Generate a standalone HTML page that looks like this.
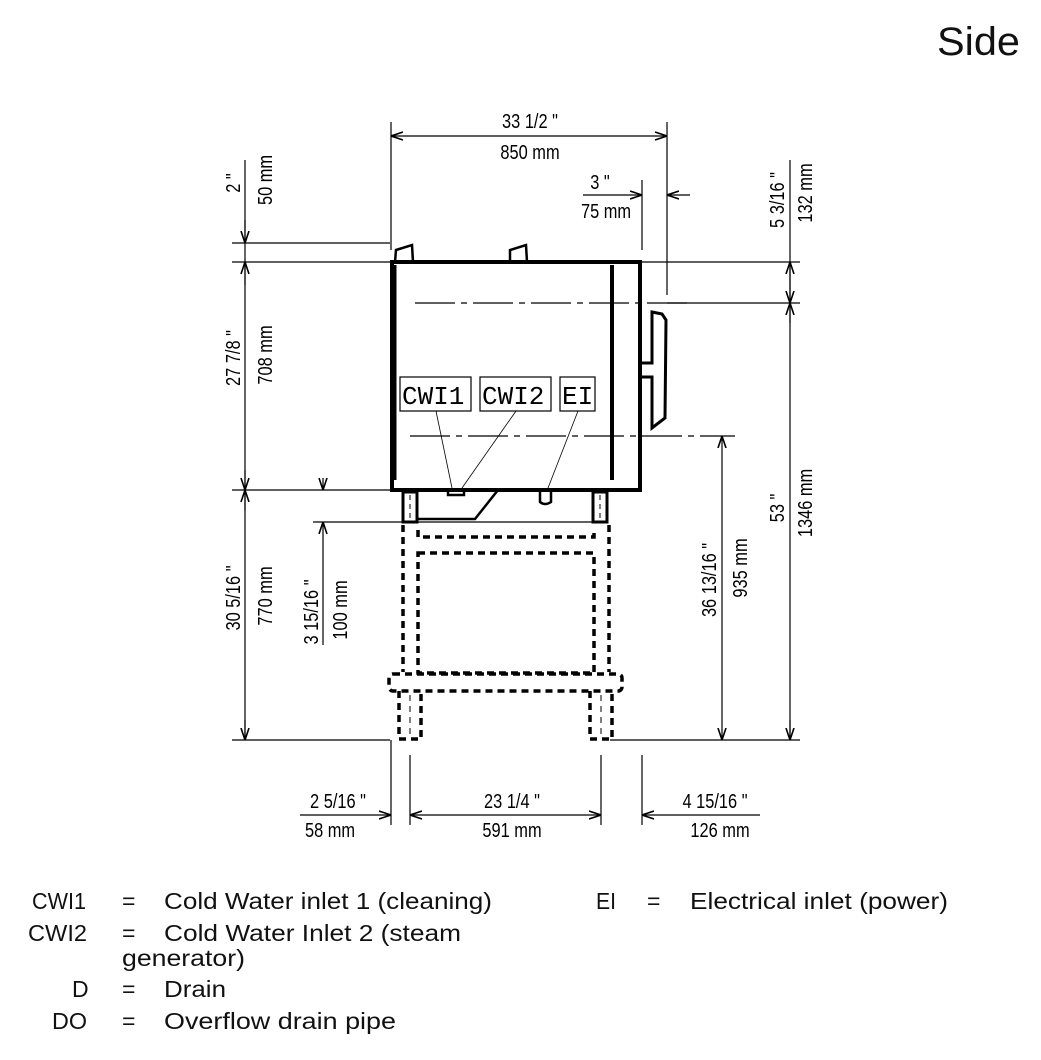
<!DOCTYPE html>
<html><head><meta charset="utf-8"><style>
html,body{margin:0;padding:0;background:#fff;}
svg{display:block;}
.d{font-family:"Liberation Sans",sans-serif;font-size:20px;fill:#000;white-space:pre;}
.lg{font-family:"Liberation Sans",sans-serif;font-size:23px;fill:#111;}
</style></head><body>
<svg width="1041" height="1060" viewBox="0 0 1041 1060" xmlns="http://www.w3.org/2000/svg" xml:space="preserve">
<defs>
<marker id="a" viewBox="0 0 12 10" refX="12" refY="5" markerWidth="12" markerHeight="10" markerUnits="userSpaceOnUse" orient="auto-start-reverse">
<path d="M0,1 L12,5 L0,9" fill="none" stroke="#000" stroke-width="1.6"/>
</marker>
</defs>
<text x="937" y="55" font-family="Liberation Sans,sans-serif" font-size="40" fill="#111" textLength="83" lengthAdjust="spacingAndGlyphs">Side</text>

<g stroke="#000" stroke-width="1.2" fill="none">
<line x1="391" y1="122" x2="391" y2="250"/>
<line x1="667" y1="122" x2="667" y2="295"/>
<line x1="391" y1="136" x2="667" y2="136" marker-start="url(#a)" marker-end="url(#a)"/>
<line x1="642" y1="180" x2="642" y2="250"/>
<line x1="583" y1="195" x2="642" y2="195" marker-end="url(#a)"/>
<line x1="667" y1="195" x2="690" y2="195" marker-start="url(#a)"/>
<line x1="245" y1="160" x2="245" y2="740"/>
<line x1="232" y1="243" x2="390" y2="243"/>
<line x1="232" y1="262" x2="392" y2="262"/>
<line x1="232" y1="490" x2="390" y2="490"/>
<line x1="232" y1="740" x2="390" y2="740"/>
<line x1="245" y1="220" x2="245" y2="243" marker-end="url(#a)"/>
<line x1="245" y1="285" x2="245" y2="262" marker-end="url(#a)"/>
<line x1="245" y1="470" x2="245" y2="490" marker-end="url(#a)"/>
<line x1="245" y1="510" x2="245" y2="490" marker-end="url(#a)"/>
<line x1="245" y1="720" x2="245" y2="740" marker-end="url(#a)"/>
<line x1="323" y1="478" x2="323" y2="490" marker-end="url(#a)"/>
<line x1="323" y1="645" x2="323" y2="522" marker-end="url(#a)"/>
<line x1="313" y1="522" x2="605" y2="522"/>
<line x1="790" y1="160" x2="790" y2="740"/>
<line x1="640" y1="262" x2="800" y2="262"/>
<line x1="667" y1="303" x2="800" y2="303"/>
<line x1="610" y1="740" x2="800" y2="740"/>
<line x1="790" y1="283" x2="790" y2="262" marker-end="url(#a)"/>
<line x1="790" y1="283" x2="790" y2="303" marker-end="url(#a)"/>
<line x1="790" y1="323" x2="790" y2="303" marker-end="url(#a)"/>
<line x1="790" y1="720" x2="790" y2="740" marker-end="url(#a)"/>
<line x1="722" y1="436" x2="722" y2="740" marker-start="url(#a)" marker-end="url(#a)"/>
<line x1="391" y1="740" x2="391" y2="825"/>
<line x1="410" y1="755" x2="410" y2="825"/>
<line x1="601" y1="755" x2="601" y2="825"/>
<line x1="642" y1="755" x2="642" y2="825"/>
<line x1="300" y1="815" x2="391" y2="815" marker-end="url(#a)"/>
<line x1="410" y1="815" x2="601" y2="815" marker-start="url(#a)" marker-end="url(#a)"/>
<line x1="642" y1="815" x2="760" y2="815" marker-start="url(#a)"/>
<line x1="415" y1="303" x2="690" y2="303" stroke-dasharray="40,6,6,6"/>
<line x1="410" y1="436" x2="735" y2="436" stroke-dasharray="40,6,6,6"/>
<line x1="436" y1="411" x2="452" y2="488" stroke-width="0.8"/>
<line x1="516" y1="411" x2="462" y2="488" stroke-width="0.8"/>
<line x1="578" y1="411" x2="548" y2="488" stroke-width="0.8"/>
</g>

<g stroke="#000" fill="none">
<rect x="392" y="262" width="248" height="228" stroke-width="4"/>
<line x1="395" y1="265" x2="395" y2="480" stroke-width="3"/>
<line x1="612" y1="265" x2="612" y2="480" stroke-width="4"/>
<path d="M395,262 L396,250 L412,245 L413,262 M510,262 L510,250 L526,245 L527,262" stroke-width="2.5"/>
<path d="M642,363 L652,363 L652,312 L662,314 L666,320 L665,418 L652,428 L652,377 L642,377" stroke-width="3"/>
<path d="M418,519 L475,519 L498,490" stroke-width="2.5"/>
<rect x="448" y="490" width="16" height="5" stroke-width="2.5"/>
<path d="M540,490 L540,502 Q545,506 551,502 L551,490" stroke-width="2.5"/>
<rect x="403" y="492" width="14" height="30" stroke-width="3"/>
<rect x="593" y="492" width="14" height="30" stroke-width="3"/>
<line x1="410" y1="495" x2="410" y2="520" stroke-width="1" stroke-dasharray="5,4"/>
<line x1="600" y1="495" x2="600" y2="520" stroke-width="1" stroke-dasharray="5,4"/>
</g>
<g stroke="#000" fill="none" stroke-width="3.5" stroke-dasharray="7,5">
<line x1="403" y1="525" x2="403" y2="672"/>
<line x1="609" y1="525" x2="609" y2="672"/>
<path d="M418,530 L418,537 L594,537 L594,530"/>
<rect x="418" y="553" width="176" height="120"/>
<rect x="389" y="674" width="233" height="17" rx="4"/>
<path d="M399,691 L399,739 L421,739 L421,691"/>
<path d="M590,691 L590,739 L612,739 L612,691"/>
</g>
<g stroke="#000" stroke-width="1" stroke-dasharray="6,5">
<line x1="410" y1="695" x2="410" y2="739"/>
<line x1="601" y1="695" x2="601" y2="739"/>
</g>
<g stroke="#000" stroke-width="1.2" fill="#fff">
<rect x="400" y="377" width="71" height="34"/>
<rect x="480" y="377" width="71" height="34"/>
<rect x="560" y="377" width="35" height="34"/>
</g>
<g font-family="Liberation Mono,monospace" font-size="26" fill="#000">
<text x="402" y="404">CWI1</text>
<text x="482" y="404">CWI2</text>
<text x="562" y="404">EI</text>
</g>

<g class="d">
<text transform="translate(530,128) scale(0.82,1)" text-anchor="middle">33  1/2 "</text>
<text transform="translate(530,159) scale(0.82,1)" text-anchor="middle">850 mm</text>
<text transform="translate(600,189) scale(0.82,1)" text-anchor="middle">3 "</text>
<text transform="translate(606,218) scale(0.82,1)" text-anchor="middle">75 mm</text>
<text transform="translate(240,183) rotate(-90) scale(0.82,1)" text-anchor="middle">2 "</text>
<text transform="translate(272,180) rotate(-90) scale(0.82,1)" text-anchor="middle">50 mm</text>
<text transform="translate(240,358) rotate(-90) scale(0.82,1)" text-anchor="middle">27  7/8 "</text>
<text transform="translate(272,355) rotate(-90) scale(0.82,1)" text-anchor="middle">708 mm</text>
<text transform="translate(240,598) rotate(-90) scale(0.82,1)" text-anchor="middle">30  5/16 "</text>
<text transform="translate(272,596) rotate(-90) scale(0.82,1)" text-anchor="middle">770 mm</text>
<text transform="translate(318,612) rotate(-90) scale(0.82,1)" text-anchor="middle">3  15/16 "</text>
<text transform="translate(347,610) rotate(-90) scale(0.82,1)" text-anchor="middle">100 mm</text>
<text transform="translate(716,580) rotate(-90) scale(0.82,1)" text-anchor="middle">36  13/16 "</text>
<text transform="translate(747,568) rotate(-90) scale(0.82,1)" text-anchor="middle">935 mm</text>
<text transform="translate(784,200) rotate(-90) scale(0.82,1)" text-anchor="middle">5  3/16 "</text>
<text transform="translate(812,193) rotate(-90) scale(0.82,1)" text-anchor="middle">132 mm</text>
<text transform="translate(784,508) rotate(-90) scale(0.82,1)" text-anchor="middle">53 "</text>
<text transform="translate(812,503) rotate(-90) scale(0.82,1)" text-anchor="middle">1346 mm</text>
<text transform="translate(338,808) scale(0.82,1)" text-anchor="middle">2  5/16 "</text>
<text transform="translate(330,837) scale(0.82,1)" text-anchor="middle">58 mm</text>
<text transform="translate(512,808) scale(0.82,1)" text-anchor="middle">23  1/4 "</text>
<text transform="translate(512,837) scale(0.82,1)" text-anchor="middle">591 mm</text>
<text transform="translate(715,808) scale(0.82,1)" text-anchor="middle">4  15/16 "</text>
<text transform="translate(720,837) scale(0.82,1)" text-anchor="middle">126 mm</text>
</g>

<g class="lg" lengthAdjust="spacingAndGlyphs">
<text x="32" y="909" textLength="54" lengthAdjust="spacingAndGlyphs">CWI1</text><text x="122" y="909">=</text><text x="164" y="909" textLength="328" lengthAdjust="spacingAndGlyphs">Cold Water inlet 1 (cleaning)</text>
<text x="596" y="909" textLength="20" lengthAdjust="spacingAndGlyphs">EI</text><text x="647" y="909">=</text><text x="690" y="909" textLength="258" lengthAdjust="spacingAndGlyphs">Electrical inlet (power)</text>
<text x="28" y="941" textLength="59" lengthAdjust="spacingAndGlyphs">CWI2</text><text x="122" y="941">=</text><text x="164" y="941" textLength="297" lengthAdjust="spacingAndGlyphs">Cold Water Inlet 2 (steam</text>
<text x="122" y="966" textLength="123" lengthAdjust="spacingAndGlyphs">generator)</text>
<text x="72" y="997">D</text><text x="122" y="997">=</text><text x="164" y="997" textLength="62" lengthAdjust="spacingAndGlyphs">Drain</text>
<text x="52" y="1029" textLength="35" lengthAdjust="spacingAndGlyphs">DO</text><text x="122" y="1029">=</text><text x="164" y="1029" textLength="232" lengthAdjust="spacingAndGlyphs">Overflow drain pipe</text>
</g>
</svg>
</body></html>
